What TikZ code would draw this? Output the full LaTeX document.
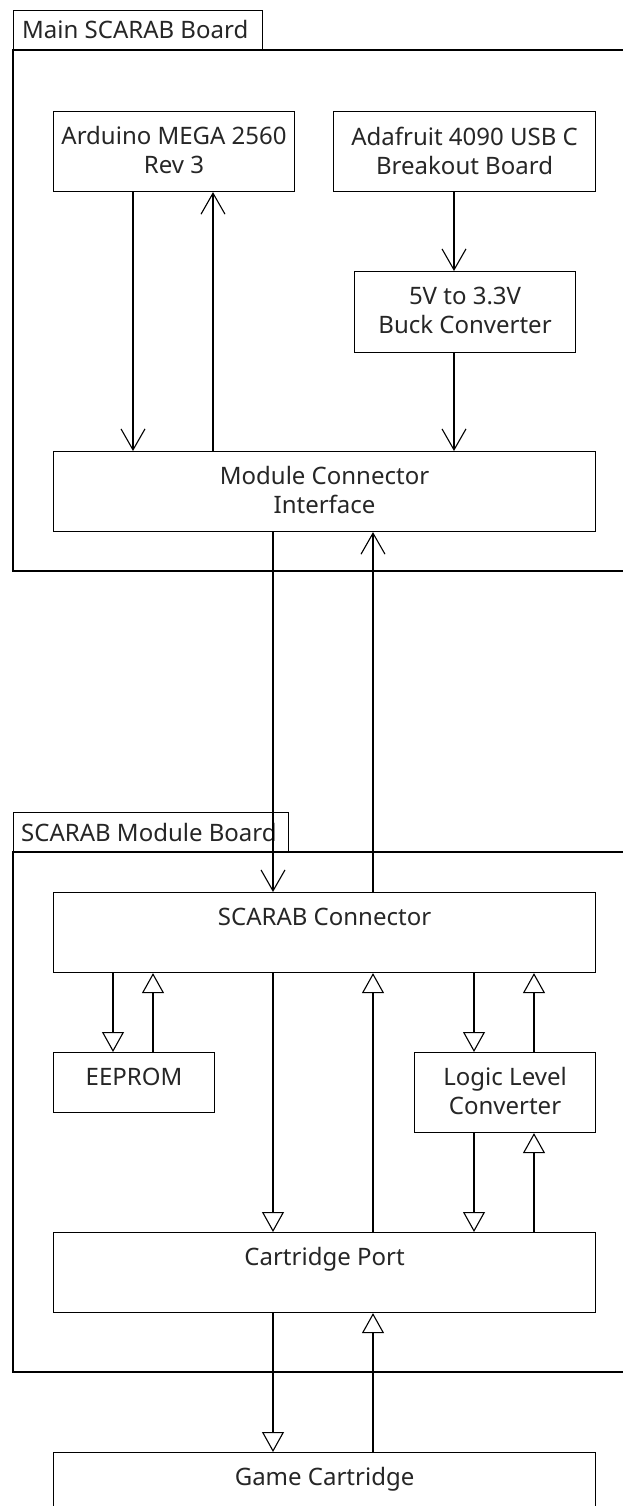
\documentclass[tikz,border=0pt]{standalone}
\usepackage{fontspec}
\setmainfont{Noto Sans}
\usetikzlibrary{arrows.meta}
\newcommand\firststrut{\rule{0pt}{18pt}}
\begin{document}
\begin{tikzpicture}[x=1pt,y=-1pt,
  box/.style={draw, line width=1.1pt, inner sep=0pt, anchor=north west},
  txt/.style={anchor=north, inner sep=0pt, align=center, font=\fontsize{24}{29}\selectfont, text=black!85, yshift=-15.5pt},
  tabtxt/.style={anchor=base west, inner sep=0pt, font=\fontsize{24}{29}\selectfont, text=black!85},
  frame/.style={draw, line width=1.1pt},
  barb/.style={line width=1.1pt, -{Straight Barb[length=21pt,width=24pt,line width=1.1pt]}},
  tri/.style={line width=1.1pt, -{Triangle[open,length=20pt,width=22pt,line width=1.1pt]}},
]
\useasboundingbox (0,0) rectangle (623,1506);
\fill[white] (0,0) rectangle (623,1506);

% Main board frame
\node[box, minimum width=249pt, minimum height=40pt] (maintab) at (13,10) {};
\node[tabtxt] (maintabt) at (22,39) {Main SCARAB Board};
\draw[frame] (13,50) rectangle (640,571);

% Module board frame
\node[box, minimum width=275pt, minimum height=40pt] (modtab) at (13,812) {};
\node[tabtxt] (modtabt) at (21,841) {SCARAB Module Board};
\draw[frame] (13,852) rectangle (640,1372);

% Boxes
\node[box, minimum width=241pt, minimum height=80pt] (ard) at (53,111) {};
\node[txt] (ardt) at (ard.north) {\firststrut Arduino MEGA 2560\\Rev 3};
\node[box, minimum width=262pt, minimum height=80pt] (ada) at (333,111) {};
\node[txt] (adat) at (ada.north) {\firststrut Adafruit 4090 USB C\\Breakout Board};
\node[box, minimum width=221pt, minimum height=81pt] (buck) at (354,271) {};
\node[txt] (buckt) at (buck.north) {\firststrut 5V to 3.3V\\Buck Converter};
\node[box, minimum width=542pt, minimum height=80pt] (mci) at (53,451) {};
\node[txt] (mcit) at (mci.north) {\firststrut Module Connector\\Interface};

\node[box, minimum width=542pt, minimum height=80pt] (sc) at (53,892) {};
\node[txt] (sct) at (sc.north) {\firststrut SCARAB Connector};
\node[box, minimum width=161pt, minimum height=60pt] (ee) at (53,1052) {};
\node[txt] (eet) at (ee.north) {\firststrut EEPROM};
\node[box, minimum width=181pt, minimum height=80pt] (llc) at (414,1052) {};
\node[txt] (llct) at (llc.north) {\firststrut Logic Level\\Converter};
\node[box, minimum width=542pt, minimum height=80pt] (cp) at (53,1232) {};
\node[txt] (cpt) at (cp.north) {\firststrut Cartridge Port};
\node[box, minimum width=542pt, minimum height=80pt] (gc) at (53,1452) {};
\node[txt] (gct) at (gc.north) {\firststrut Game Cartridge};

% Main board connectors
\draw[barb] ([xshift=80pt]ard.south west) -- ([xshift=80pt]mci.north west);
\draw[barb] ([xshift=160pt]mci.north west) -- ([xshift=160pt]ard.south west);
\draw[barb] ([xshift=121pt]ada.south west) -- ([xshift=100pt]buck.north west);
\draw[barb] ([xshift=100pt]buck.south west) -- ([xshift=401pt]mci.north west);
\draw[barb] ([xshift=220pt]mci.south west) -- ([xshift=220pt]sc.north west);
\draw[barb] ([xshift=320pt]sc.north west) -- ([xshift=320pt]mci.south west);

% Module board connectors
\draw[tri] ([xshift=60pt]sc.south west) -- ([xshift=60pt]ee.north west);
\draw[tri] ([xshift=100pt]ee.north west) -- ([xshift=100pt]sc.south west);
\draw[tri] ([xshift=220pt]sc.south west) -- ([xshift=220pt]cp.north west);
\draw[tri] ([xshift=320pt]cp.north west) -- ([xshift=320pt]sc.south west);
\draw[tri] ([xshift=421pt]sc.south west) -- ([xshift=60pt]llc.north west);
\draw[tri] ([xshift=120pt]llc.north west) -- ([xshift=481pt]sc.south west);
\draw[tri] ([xshift=60pt]llc.south west) -- ([xshift=421pt]cp.north west);
\draw[tri] ([xshift=481pt]cp.north west) -- ([xshift=120pt]llc.south west);
\draw[tri] ([xshift=220pt]cp.south west) -- ([xshift=220pt]gc.north west);
\draw[tri] ([xshift=320pt]gc.north west) -- ([xshift=320pt]cp.south west);
\end{tikzpicture}
\end{document}
